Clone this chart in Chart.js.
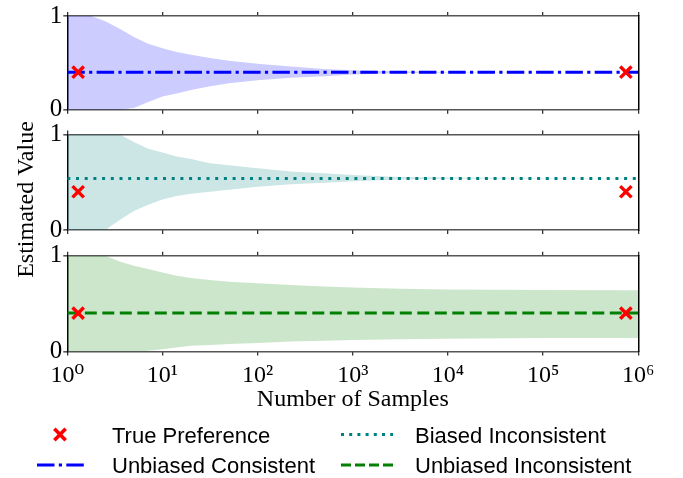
<!DOCTYPE html>
<html>
<head>
<meta charset="utf-8">
<script src="https://cdn.jsdelivr.net/npm/chart.js@4.4.1/dist/chart.umd.min.js"></script>
<style>
html, body { margin: 0; padding: 0; background: #ffffff; width: 683px; height: 478px; overflow: hidden; }
canvas { position: absolute; left: 0; top: 0; }
</style>
</head>
<body>
<canvas id="c3" width="683" height="478"></canvas>
<canvas id="c2" width="683" height="478"></canvas>
<canvas id="c1" width="683" height="478"></canvas>
<script>
// ---------------- data ----------------
const tickValues = [1, 10, 100, 1000, 10000, 100000, 1000000];
const tickLabels = ['10\u2070', '10\u00B9', '10\u00B2', '10\u00B3', '10\u2074', '10\u2075', '10\u2076'];
const yTickValues = [0, 1];
const yTickLabels = ['0', '1'];

// sample counts at which the spread band was read
const sampleN = [1, 1.78, 2.51, 3.55, 5.01, 7.08, 10, 14.1, 20, 31.6, 50.1, 100, 224, 501, 1000, 3162, 10000, 100000, 1000000];
const lineN = [1, 1000000];

const truePrefN = [1.3, 740000];
const truePrefValue = [0.4, 0.4];

const ucMean  = [0.4, 0.4];
const ucUpper = [1, 1, 0.945, 0.863, 0.777, 0.705, 0.657, 0.615, 0.587, 0.553, 0.523, 0.49, 0.46, 0.435, 0.42, 0.408, 0.403, 0.401, 0.401];
const ucLower = [0, 0, 0, 0, 0.017, 0.082, 0.14, 0.174, 0.21, 0.249, 0.283, 0.313, 0.34, 0.358, 0.375, 0.392, 0.397, 0.399, 0.399];

const biMean  = [0.54, 0.54];
const biUpper = [1, 1, 1, 1, 0.92, 0.85, 0.81, 0.77, 0.742, 0.697, 0.677, 0.645, 0.612, 0.593, 0.575, 0.555, 0.548, 0.543, 0.542];
const biLower = [0, 0, 0, 0.105, 0.20, 0.265, 0.32, 0.355, 0.38, 0.40, 0.42, 0.453, 0.478, 0.495, 0.509, 0.527, 0.535, 0.538, 0.539];

const uiMean  = [0.4, 0.4];
const uiUpper = [1, 1, 1, 0.94, 0.895, 0.86, 0.825, 0.79, 0.767, 0.747, 0.728, 0.712, 0.695, 0.678, 0.667, 0.655, 0.648, 0.641, 0.64];
const uiLower = [0, 0, 0, 0, 0, 0.008, 0.022, 0.042, 0.058, 0.068, 0.077, 0.087, 0.103, 0.111, 0.118, 0.127, 0.133, 0.139, 0.14];

const seriesNames = ['True Preference', 'Unbiased Consistent', 'Biased Inconsistent', 'Unbiased Inconsistent'];
const xTitle = 'Number of Samples';
const yTitle = 'Estimated Value';

// ---------------- layout / style ----------------
const W = 683, H = 478;
const PLOT_LEFT = 67.3, PLOT_RIGHT = 638.3;
const panels = [
  { top: 14.0,  bottom: 109.7 },
  { top: 134.4, bottom: 230.0 },
  { top: 255.7, bottom: 351.4 }
];
const TOP_AXIS_H = 10, BOT_AXIS_H = 10, LAST_AXIS_H = 62.5;
const SERIF = "'Liberation Serif', 'DejaVu Serif', serif";
const SANS = "'Liberation Sans', Arial, sans-serif";

const styles = {
  uc: { color: '#0000ff', band: 'rgba(0,0,255,0.2)',   dash: [17.5, 4.3, 3.2, 4.3] },
  bi: { color: '#008080', band: 'rgba(0,128,128,0.2)', dash: [3, 5.7] },
  ui: { color: '#008000', band: 'rgba(0,128,0,0.2)',   dash: [12, 5.5] }
};

Chart.defaults.font.family = SERIF;
Chart.defaults.color = '#000';

function pts(xs, ys) { return xs.map((x, i) => ({ x: x, y: ys[i] })); }

function makeChart(id, p, name, st, mean, upper, lower, isLast, plugins) {
  const botH = isLast ? LAST_AXIS_H : BOT_AXIS_H;
  return new Chart(document.getElementById(id), {
    type: 'line',
    data: {
      datasets: [
        { label: seriesNames[0], data: pts(truePrefN, truePrefValue), xAxisID: 'x', yAxisID: 'y',
          showLine: false, pointStyle: 'crossRot', pointRadius: 8, pointBorderWidth: 3.4,
          pointBorderColor: '#ff0000', pointBackgroundColor: '#ff0000', borderColor: '#ff0000' },
        { label: name, data: pts(lineN, mean), xAxisID: 'x', yAxisID: 'y',
          borderColor: st.color, borderWidth: 3, borderDash: st.dash, borderCapStyle: 'butt',
          pointRadius: 0, fill: false },
        { label: name + ' upper', data: pts(sampleN, upper), xAxisID: 'x', yAxisID: 'y',
          borderColor: 'rgba(0,0,0,0)', borderWidth: 0, pointRadius: 0,
          fill: '+1', backgroundColor: st.band },
        { label: name + ' lower', data: pts(sampleN, lower), xAxisID: 'x', yAxisID: 'y',
          borderColor: 'rgba(0,0,0,0)', borderWidth: 0, pointRadius: 0, fill: false }
      ]
    },
    options: {
      responsive: false,
      animation: false,
      events: [],
      layout: { padding: { top: p.top - TOP_AXIS_H, bottom: H - p.bottom - botH, left: 0, right: 0 } },
      plugins: { legend: { display: false }, tooltip: { enabled: false } },
      scales: {
        x: {
          type: 'logarithmic', position: 'bottom', min: 1, max: 1000000,
          afterBuildTicks: s => { s.ticks = tickValues.map(v => ({ value: v })); },
          afterFit: s => { s.height = botH; },
          border: { display: false },
          grid: { drawOnChartArea: false, drawTicks: true, tickLength: 4, color: '#333', lineWidth: 1.3 },
          ticks: { display: isLast, padding: 6, maxRotation: 0, autoSkip: false, font: { size: 24, family: SERIF }, color: '#000',
                   callback: (v, i) => tickLabels[i] },
          title: { display: isLast, text: xTitle, font: { size: 24, family: SERIF }, color: '#000', padding: 0 }
        },
        xTop: {
          type: 'logarithmic', position: 'top', min: 1, max: 1000000,
          afterBuildTicks: s => { s.ticks = tickValues.map(v => ({ value: v })); },
          afterFit: s => { s.height = TOP_AXIS_H; },
          border: { display: false },
          grid: { drawOnChartArea: false, drawTicks: true, tickLength: 4, color: '#333', lineWidth: 1.3 },
          ticks: { display: false }
        },
        y: {
          position: 'left', min: 0, max: 1,
          afterBuildTicks: s => { s.ticks = yTickValues.map(v => ({ value: v })); },
          afterFit: s => { s.width = PLOT_LEFT; },
          border: { display: true, color: '#000', width: 1.5 },
          grid: { color: '#555', lineWidth: 1.6, drawTicks: true, tickLength: 4 },
          ticks: { padding: 1, font: { size: 25, family: SERIF }, color: '#000', callback: (v, i) => yTickLabels[i] }
        },
        yR: {
          position: 'right', min: 0, max: 1,
          afterFit: s => { s.width = W - PLOT_RIGHT; },
          border: { display: true, color: '#000', width: 1.5 },
          grid: { display: false },
          ticks: { display: false }
        }
      }
    },
    plugins: plugins || []
  });
}

// figure-level text: y label and legend, drawn on the bottom panel's canvas
const legendEntries = [
  { label: seriesNames[0], kind: 'marker', color: '#ff0000', col: 0, row: 0 },
  { label: seriesNames[2], kind: 'line', color: styles.bi.color, dash: [3, 5.2], col: 1, row: 0 },
  { label: seriesNames[1], kind: 'line', color: styles.uc.color, dash: [17.5, 4.3, 3.2, 4.3], col: 0, row: 1 },
  { label: seriesNames[3], kind: 'line', color: styles.ui.color, dash: [10, 4], col: 1, row: 1 }
];
const legendCols = [ { x0: 37, x1: 87, tx: 112 }, { x0: 341, x1: 393, tx: 415 } ];
const legendRows = [ { cy: 434.5, base: 443 }, { cy: 465, base: 473 } ];

const figTextPlugin = {
  id: 'figText',
  afterDraw(chart) {
    const ctx = chart.ctx;
    ctx.save();
    ctx.fillStyle = '#000';
    ctx.font = '24px ' + SERIF;
    ctx.translate(33, 199.5);
    ctx.rotate(-Math.PI / 2);
    ctx.textAlign = 'center';
    ctx.textBaseline = 'alphabetic';
    ctx.fillText(yTitle, 0, 0);
    ctx.restore();

    legendEntries.forEach(e => {
      const c = legendCols[e.col], r = legendRows[e.row];
      ctx.save();
      if (e.kind === 'marker') {
        ctx.strokeStyle = e.color;
        ctx.fillStyle = e.color;
        ctx.lineWidth = 3.6;
        Chart.helpers.drawPoint(ctx, { pointStyle: 'crossRot', radius: 8, rotation: 0, borderWidth: 3.6 }, (c.x0 + c.x1) / 2 - 2, r.cy);
      } else {
        ctx.strokeStyle = e.color;
        ctx.lineWidth = 3;
        ctx.lineCap = 'butt';
        ctx.setLineDash(e.dash);
        ctx.beginPath();
        ctx.moveTo(c.x0, r.cy);
        ctx.lineTo(c.x1, r.cy);
        ctx.stroke();
      }
      ctx.restore();
      ctx.save();
      ctx.fillStyle = '#000';
      ctx.font = '22px ' + SANS;
      ctx.textAlign = 'left';
      ctx.textBaseline = 'alphabetic';
      ctx.fillText(e.label, c.tx, r.base);
      ctx.restore();
    });
  }
};

makeChart('c1', panels[0], seriesNames[1], styles.uc, ucMean, ucUpper, ucLower, false);
makeChart('c2', panels[1], seriesNames[2], styles.bi, biMean, biUpper, biLower, false);
makeChart('c3', panels[2], seriesNames[3], styles.ui, uiMean, uiUpper, uiLower, true, [figTextPlugin]);
</script>
</body>
</html>
